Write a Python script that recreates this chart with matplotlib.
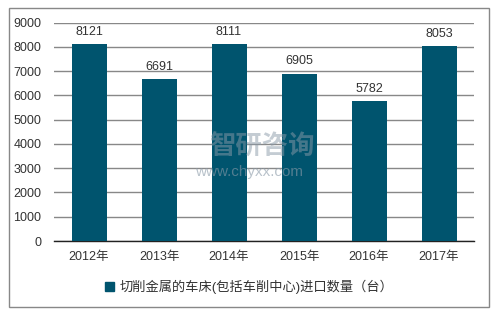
import matplotlib.pyplot as plt
import matplotlib.patches as mpatches
import numpy as np

plt.rcParams['font.family'] = ['Liberation Sans', 'Noto Sans CJK SC', 'DejaVu Sans']

years = ['2012年', '2013年', '2014年', '2015年', '2016年', '2017年']
values = [8121, 6691, 8111, 6905, 5782, 8053]
series_name = '切削金属的车床(包括车削中心)进口数量（台）'
yticks = np.arange(0, 10000, 1000)

bar_color = '#00546e'
text_color = '#333333'

fig = plt.figure(figsize=(4.98, 3.14), dpi=100)
W, H = 498, 314
ax = fig.add_axes([54 / W, 1 - 241 / H, 420 / W, (241 - 22.7) / H])

x = np.arange(len(years))
bars = ax.bar(x, values, width=0.5, color=bar_color, zorder=3, label=series_name)
for xi, v in zip(x, values):
    ax.text(xi, v + 250, str(v), ha='center', va='bottom', fontsize=9, color=text_color)

ax.set_xlim(-0.5, len(years) - 0.5)
ax.set_ylim(0, 9000)
ax.set_yticks(yticks)
ax.set_yticklabels([str(t) for t in yticks], fontsize=9, color=text_color)
ax.set_xticks(x)
ax.set_xticklabels(years, fontsize=9, color=text_color)
ax.tick_params(axis='y', length=0, pad=9)
ax.tick_params(axis='x', length=0, pad=7)
ax.yaxis.grid(True, color='#888888', linewidth=1.0, zorder=0)
for s in ['top', 'right', 'left']:
    ax.spines[s].set_visible(False)
ax.spines['bottom'].set_color('#222222')
ax.spines['bottom'].set_linewidth(1.0)

# watermark
fig.text(262 / W, 1 - 147 / H, '智研咨询', fontsize=19, color='#8a9aa8', alpha=0.5,
         ha='center', va='center', zorder=10, fontweight='bold')
fig.text(249 / W, 1 - 172 / H, 'www.chyxx.com', fontsize=11, color='#8a9aa8', alpha=0.6,
         ha='center', va='center', zorder=10)

# outer frame
fig.patches.append(mpatches.Rectangle((9 / W, 1 - 307 / H), 480 / W, 299 / H,
                                      transform=fig.transFigure, fill=False,
                                      edgecolor='#888888', linewidth=1.0))

fig.legend(handles=[mpatches.Patch(color=bar_color)], labels=[series_name],
           loc='center', bbox_to_anchor=(0.5, 1 - 287 / H), frameon=False,
           fontsize=9.5, handlelength=0.7, handleheight=0.7, handletextpad=0.4,
           labelcolor=text_color)

fig.savefig('out.png', dpi=100)
